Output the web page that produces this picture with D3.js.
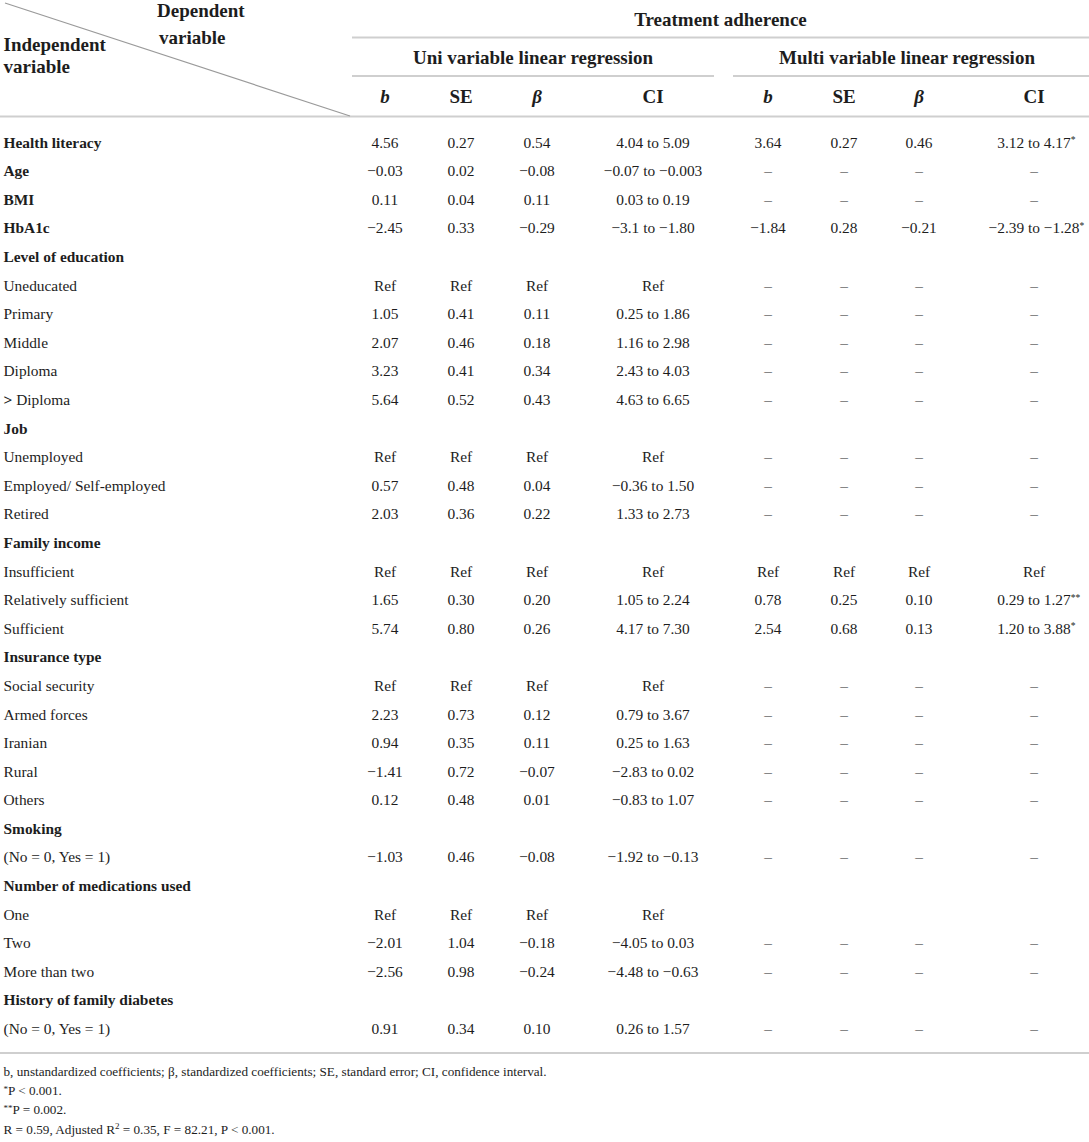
<!DOCTYPE html>
<html>
<head>
<meta charset="utf-8">
<script src="https://cdn.jsdelivr.net/npm/d3@7"></script>
<style>
  body { margin: 0; background: #fff; }
  svg text { font-family: "Liberation Serif", "Times New Roman", serif; fill: #1d1d1d; }
</style>
</head>
<body>
<div id="viz"></div>
<script>
// table content
const rowLabels = ["Health literacy", "Age", "BMI", "HbA1c", "Level of education", "Uneducated", "Primary",
  "Middle", "Diploma", "> Diploma", "Job", "Unemployed", "Employed/ Self-employed", "Retired", "Family income",
  "Insufficient", "Relatively sufficient", "Sufficient", "Insurance type", "Social security", "Armed forces",
  "Iranian", "Rural", "Others", "Smoking", "(No = 0, Yes = 1)", "Number of medications used", "One", "Two",
  "More than two", "History of family diabetes", "(No = 0, Yes = 1)"]

// rows with bold labels
const boldRows = [0, 1, 2, 3, 4, 10, 14, 18, 24, 26, 30]

const uniB    = ["4.56", "−0.03", "0.11", "−2.45", "", "Ref", "1.05", "2.07", "3.23", "5.64", "", "Ref", "0.57", "2.03", "",
  "Ref", "1.65", "5.74", "", "Ref", "2.23", "0.94", "−1.41", "0.12", "", "−1.03", "", "Ref", "−2.01", "−2.56", "", "0.91"]
const uniSE   = ["0.27", "0.02", "0.04", "0.33", "", "Ref", "0.41", "0.46", "0.41", "0.52", "", "Ref", "0.48", "0.36", "",
  "Ref", "0.30", "0.80", "", "Ref", "0.73", "0.35", "0.72", "0.48", "", "0.46", "", "Ref", "1.04", "0.98", "", "0.34"]
const uniBeta = ["0.54", "−0.08", "0.11", "−0.29", "", "Ref", "0.11", "0.18", "0.34", "0.43", "", "Ref", "0.04", "0.22", "",
  "Ref", "0.20", "0.26", "", "Ref", "0.12", "0.11", "−0.07", "0.01", "", "−0.08", "", "Ref", "−0.18", "−0.24", "", "0.10"]
const uniCI   = ["4.04 to 5.09", "−0.07 to −0.003", "0.03 to 0.19", "−3.1 to −1.80", "", "Ref", "0.25 to 1.86",
  "1.16 to 2.98", "2.43 to 4.03", "4.63 to 6.65", "", "Ref", "−0.36 to 1.50", "1.33 to 2.73", "", "Ref",
  "1.05 to 2.24", "4.17 to 7.30", "", "Ref", "0.79 to 3.67", "0.25 to 1.63", "−2.83 to 0.02", "−0.83 to 1.07", "",
  "−1.92 to −0.13", "", "Ref", "−4.05 to 0.03", "−4.48 to −0.63", "", "0.26 to 1.57"]

const multiB    = ["3.64", "–", "–", "−1.84", "", "–", "–", "–", "–", "–", "", "–", "–", "–", "", "Ref", "0.78", "2.54", "",
  "–", "–", "–", "–", "–", "", "–", "", "", "–", "–", "", "–"]
const multiSE   = ["0.27", "–", "–", "0.28", "", "–", "–", "–", "–", "–", "", "–", "–", "–", "", "Ref", "0.25", "0.68", "",
  "–", "–", "–", "–", "–", "", "–", "", "", "–", "–", "", "–"]
const multiBeta = ["0.46", "–", "–", "−0.21", "", "–", "–", "–", "–", "–", "", "–", "–", "–", "", "Ref", "0.10", "0.13", "",
  "–", "–", "–", "–", "–", "", "–", "", "", "–", "–", "", "–"]
const multiCI   = ["3.12 to 4.17*", "–", "–", "−2.39 to −1.28*", "", "–", "–", "–", "–", "–", "", "–", "–", "–", "",
  "Ref", "0.29 to 1.27**", "1.20 to 3.88*", "", "–", "–", "–", "–", "–", "", "–", "", "", "–", "–", "", "–"]

const columns = ["b1", "se1", "beta1", "ci1", "b2", "se2", "beta2", "ci2"]
const colHeaders = ["b", "SE", "β", "CI", "b", "SE", "β", "CI"]
const italicHeaders = ["b", "β"]
const footnotes = [
  "b, unstandardized coefficients; β, standardized coefficients; SE, standard error; CI, confidence interval.",
  "*P < 0.001.",
  "**P = 0.002.",
  "R = 0.59, Adjusted R2 = 0.35, F = 82.21, P < 0.001."
]

const W = 1089, H = 1142

const svg = d3.select("#viz")
  .append("svg")
    .attr("width", W)
    .attr("height", H)

// scales
let yScale = d3.scalePoint()
    .domain(d3.range(rowLabels.length))
    .range([142.7, 1029])

let xScale = d3.scaleOrdinal()
    .domain(columns)
    .range([385, 461, 537, 653, 768, 844, 919, 1034])

const lineColor = "#cfcfcf"

function hline(x1, x2, y) {
  svg.append("line")
    .attr("x1", x1).attr("x2", x2)
    .attr("y1", y).attr("y2", y)
    .attr("stroke", lineColor)
    .attr("stroke-width", 2)
}

// rules
hline(352, W, 37.5)
hline(352, 714, 76)
hline(733, W, 76)
hline(0, W, 116.5)
hline(0, W, 1053)

// diagonal header line
svg.append("line")
  .attr("x1", 5).attr("y1", 3)
  .attr("x2", 350).attr("y2", 116)
  .attr("stroke", "#9a9a9a")
  .attr("stroke-width", 1.2)

const headFont = 19

function headText(txt, x, y, anchor) {
  svg.append("text")
    .attr("x", x).attr("y", y)
    .attr("text-anchor", anchor || "start")
    .attr("font-size", headFont)
    .attr("font-weight", "bold")
    .text(txt)
}

headText("Dependent", 157, 16.7)
headText("variable", 159, 44)
headText("Independent", 3.5, 50.7)
headText("variable", 3.5, 72.7)
headText("Treatment adherence", (352 + W) / 2, 26, "middle")
headText("Uni variable linear regression", (352 + 714) / 2, 64, "middle")
headText("Multi variable linear regression", (733 + W) / 2 - 4, 64, "middle")

svg.selectAll("text.colhead")
  .data(columns)
  .join("text")
    .attr("class", "colhead")
    .attr("x", d => xScale(d))
    .attr("y", 102.5)
    .attr("text-anchor", "middle")
    .attr("font-size", headFont)
    .attr("font-weight", "bold")
    .attr("font-style", (d, i) => italicHeaders.includes(colHeaders[i]) ? "italic" : "normal")
    .text((d, i) => colHeaders[i])

// body rows
const bodyFont = 15.4
const rows = rowLabels.map((label, i) => ({
  i: i,
  label: label,
  bold: boldRows.includes(i),
  cells: [uniB[i], uniSE[i], uniBeta[i], uniCI[i], multiB[i], multiSE[i], multiBeta[i], multiCI[i]]
}))

let rowG = svg.selectAll("g.row")
  .data(rows)
  .join("g")
    .attr("class", "row")
    .attr("transform", d => `translate(0,${yScale(d.i) + 5})`)

rowG.append("text")
    .attr("x", 3.5)
    .attr("font-size", bodyFont)
    .attr("font-weight", d => d.bold ? "bold" : "normal")
    .each(function(d) {
      let t = d3.select(this)
      // the ">" sign is set in bold in the source
      if (d.label.startsWith(">")) {
        t.append("tspan").attr("font-weight", "bold").text(">")
        t.append("tspan").text(d.label.slice(1))
      } else {
        t.text(d.label)
      }
    })

function measure(s) {
  let tmp = svg.append("text").attr("font-size", bodyFont).text(s)
  let w = tmp.node().getComputedTextLength()
  tmp.remove()
  return w
}

rowG.each(function(d) {
  let g = d3.select(this)
  d.cells.forEach((v, c) => {
    if (!v) return
    let m = v.match(/^(.*?)(\**)$/)
    let t = g.append("text")
      .attr("x", xScale(columns[c]))
      .attr("text-anchor", "middle")
      .attr("font-size", bodyFont)
    t.append("tspan").text(m[1])
    if (m[2]) {
      // stars hang to the right so the numbers stay centred
      t.attr("text-anchor", "start")
       .attr("x", xScale(columns[c]) - measure(m[1]) / 2)
      t.append("tspan")
        .attr("font-size", 9.5)
        .attr("dy", -4.5)
        .text(m[2])
    }
  })
})

// footnotes
const footY = [1076, 1095, 1114, 1134]
footnotes.forEach((f, i) => {
  let t = svg.append("text")
    .attr("x", 3.5)
    .attr("y", footY[i])
    .attr("font-size", 13.2)
  let m = f.match(/^(\**)(.*)$/)
  if (m[1]) {
    t.append("tspan").attr("font-size", 9).attr("dy", -3.5).text(m[1])
    t.append("tspan").attr("dy", 3.5).text(m[2])
  } else if (f.includes("R2")) {
    let parts = f.split("R2")
    t.append("tspan").text(parts[0] + "R")
    t.append("tspan").attr("font-size", 9).attr("dy", -5).text("2")
    t.append("tspan").attr("dy", 5).text(parts[1])
  } else {
    t.text(f)
  }
})
</script>
</body>
</html>
